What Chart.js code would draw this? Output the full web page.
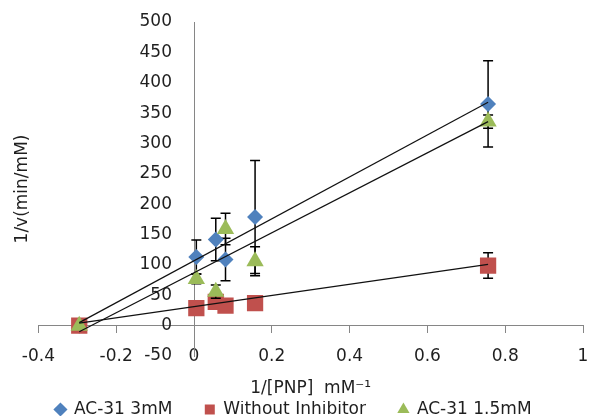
<!DOCTYPE html>
<html>
<head>
<meta charset="utf-8">
<script src="https://cdn.jsdelivr.net/npm/chart.js@4.4.0/dist/chart.umd.min.js"></script>
<style>
html, body { margin: 0; padding: 0; background: #fff; overflow: hidden; }
#wrap { width: 590px; height: 428px; }
</style>
</head>
<body>
<div id="wrap"><canvas id="LB-Plot"></canvas></div>
<script>
// Lineweaver-Burk data
const pnpInv = [-0.295, 0.006, 0.056, 0.081, 0.157, 0.756];

const ac31High = [0, 113, 142, 109, 179, 365];
const ac31HighErr = [0, 28, 35, 35, 93, 71];
const noInhib = [0, 29, 39, 33, 37, 99];
const noInhibErr = [0, 4, 4, 4, 4, 21];
const ac31Low = [0, 77, 56, 159, 106, 336];
const ac31LowErr = [0, 8, 11, 26, 24, 11];

// trendline end points
const trendX = [-0.295, 0.756];
const ac31HighFit = [5, 368];
const noInhibFit = [4, 101];
const ac31LowFit = [-10, 336];

// axes
const xRange = [-0.4, 1];
const xStep = 0.2;
const yRange = [-50, 500];
const yStep = 50;

const txtFont = { family: 'DejaVu Sans', size: 17 };
const txtColor = '#1f1f1f';
const axisColor = '#868686';

function pts(xs, ys) {
    return xs.map(function (x, i) { return { x: x, y: ys[i] }; });
}

// error bars, drawn under each series' markers
const errorBars = {
    id: 'errorBars',
    beforeDatasetDraw(chart, args) {
        const ds = chart.data.datasets[args.index];
        if (!ds.errors) return;
        const xs = chart.scales.x, ys = chart.scales.y;
        const ctx = chart.ctx;
        ctx.save();
        ctx.strokeStyle = '#000';
        ctx.lineWidth = 1.5;
        ds.data.forEach(function (p, i) {
            const e = ds.errors[i];
            if (!e) return;
            const px = xs.getPixelForValue(p.x);
            const top = ys.getPixelForValue(p.y + e);
            const bot = ys.getPixelForValue(p.y - e);
            ctx.beginPath();
            ctx.moveTo(px, top); ctx.lineTo(px, bot);
            ctx.moveTo(px - 5, top); ctx.lineTo(px + 5, top);
            ctx.moveTo(px - 5, bot); ctx.lineTo(px + 5, bot);
            ctx.stroke();
        });
        ctx.restore();
    }
};

// the value axis crosses at x = 0, so slide it there once the layout is done
const crossAtZero = {
    id: 'crossAtZero',
    afterLayout(chart) {
        const y = chart.scales.y;
        y.left = 0;
        y.right = chart.scales.x.getPixelForValue(0);
    }
};

// keep the tick labels from pushing the plot area in
function noEdgePadding(s) {
    s.paddingTop = 0;
    s.paddingBottom = 0;
    s.paddingLeft = 0;
    s.paddingRight = 0;
}

function trend(ys) {
    return {
        type: 'line',
        data: pts(trendX, ys),
        borderColor: '#111',
        borderWidth: 1.2,
        pointRadius: 0,
        trend: true,
        order: 0
    };
}

const ctx = document.getElementById('LB-Plot').getContext('2d');
window.lbChart = new Chart(ctx, {
    type: 'scatter',
    data: {
        datasets: [{
            label: 'AC-31 3mM',
            data: pts(pnpInv, ac31High),
            errors: ac31HighErr,
            pointStyle: 'rectRot',
            pointRadius: 8,
            backgroundColor: '#4F81BD',
            borderColor: '#4F81BD',
            borderWidth: 0,
            order: 3
        }, {
            label: 'Without Inhibitor',
            data: pts(pnpInv, noInhib),
            errors: noInhibErr,
            pointStyle: 'rect',
            pointRadius: 11.5,
            backgroundColor: '#C0504D',
            borderColor: '#C0504D',
            borderWidth: 0,
            order: 2
        }, {
            label: 'AC-31 1.5mM',
            data: pts(pnpInv, ac31Low),
            errors: ac31LowErr,
            pointStyle: 'triangle',
            pointRadius: 10,
            backgroundColor: '#9BBB59',
            borderColor: '#9BBB59',
            borderWidth: 0,
            order: 1
        },
        trend(ac31HighFit),
        trend(noInhibFit),
        trend(ac31LowFit)]
    },
    options: {
        responsive: true,
        maintainAspectRatio: false,
        animation: false,
        layout: { autoPadding: false, padding: { top: 22, left: 4, right: 7, bottom: 0 } },
        plugins: {
            tooltip: { enabled: false },
            legend: {
                position: 'bottom',
                labels: {
                    usePointStyle: true,
                    boxWidth: 10,
                    boxHeight: 10,
                    padding: 0,
                    font: txtFont,
                    color: txtColor,
                    generateLabels(chart) {
                        const items = Chart.defaults.plugins.legend.labels.generateLabels(chart)
                            .filter(function (it) { return !chart.data.datasets[it.datasetIndex].trend; })
                            .sort(function (a, b) { return a.datasetIndex - b.datasetIndex; });
                        items.forEach(function (it, i) {
                            if (i < items.length - 1) it.text += '      ';
                        });
                        return items;
                    }
                }
            }
        },
        scales: {
            x: {
                type: 'linear',
                position: { y: 0 },
                min: xRange[0],
                max: xRange[1],
                ticks: {
                    stepSize: xStep, padding: 14, font: txtFont, color: txtColor,
                    callback: function (v) { return Math.round(v * 10) / 10; }
                },
                grid: { drawOnChartArea: false, tickLength: 7, color: axisColor },
                border: { color: axisColor },
                afterFit(s) { s.height = 0; noEdgePadding(s); }
            },
            x2: {
                type: 'linear',
                position: 'bottom',
                ticks: { display: false },
                grid: { display: false, drawTicks: false },
                border: { display: false },
                title: {
                    display: true,
                    text: '1/[PNP]  mM\u207B\u00B9',
                    font: txtFont,
                    color: txtColor,
                    padding: { top: 22.8, bottom: 1.8 }
                }
            },
            y: {
                type: 'linear',
                position: 'left',
                min: yRange[0],
                max: yRange[1],
                ticks: { stepSize: yStep, padding: 22, font: txtFont, color: txtColor },
                grid: { drawOnChartArea: false, drawTicks: false },
                border: { color: axisColor },
                afterFit(s) { s.width = 0; noEdgePadding(s); }
            },
            y2: {
                type: 'linear',
                position: 'left',
                ticks: { display: false },
                grid: { display: false, drawTicks: false },
                border: { display: false },
                title: {
                    display: true,
                    text: '1/v(min/mM)',
                    font: txtFont,
                    color: txtColor,
                    padding: { top: 8, bottom: 6 }
                }
            }
        }
    },
    plugins: [errorBars, crossAtZero]
});
</script>
</body>
</html>
